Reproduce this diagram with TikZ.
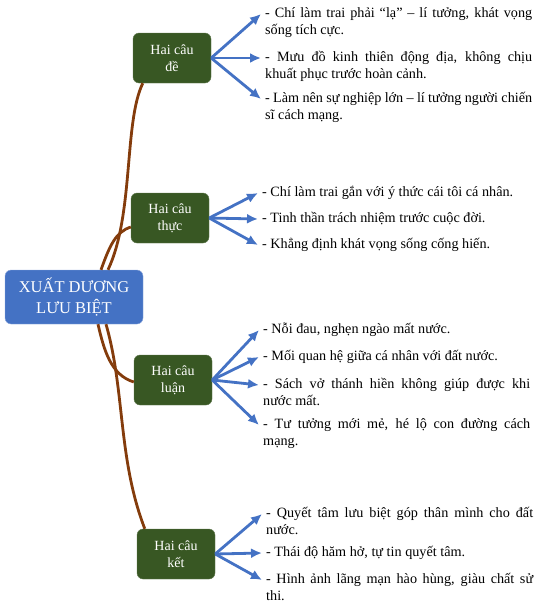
\documentclass[tikz,border=0pt]{standalone}
\usepackage{fontspec}
\setmainfont{Liberation Serif}
\usetikzlibrary{calc,arrows.meta}

\definecolor{rootblue}{HTML}{4472C4}
\definecolor{partgreen}{HTML}{385723}
\definecolor{branchbrown}{HTML}{843C0C}
\hyphenpenalty=10000
\tolerance=9999

\begin{document}
\begin{tikzpicture}[x=1pt, y=-1pt, >={Latex[length=11pt,width=10pt]},
  rootbox/.style={draw=rootblue!60!white, fill=rootblue, text=white, rounded corners=6pt,
    minimum width=138pt, minimum height=54pt, align=center,
    font=\fontsize{16.5}{21}\selectfont},
  partbox/.style={draw=partgreen!80!white, fill=partgreen, text=white, rounded corners=6pt,
    minimum width=78pt, minimum height=50pt, align=center,
    font=\fontsize{14}{17}\selectfont},
  item/.style={anchor=north west, inner sep=0pt, text width=267pt, align=justify,
    font=\fontsize{14.2}{17}\selectfont, execute at begin node=\strut},
  branch/.style={draw=branchbrown, line width=2.8pt},
  twig/.style={->, draw=rootblue, line width=2.8pt}]

  \useasboundingbox (0,0) rectangle (536,608);

  % 1. Center and the four parts
  \node[rootbox] (root) at (74,297) {XUẤT DƯƠNG\\LƯU BIỆT};
  \node[partbox] (de)   at (172,58)  {Hai câu\\đề};
  \node[partbox] (thuc) at (170,218) {Hai câu\\thực};
  \node[partbox] (luan) at (173,380) {Hai câu\\luận};
  \node[partbox] (ket)  at (176,554) {Hai câu\\kết};

  % 2. Brown branches
  \draw[branch] ($(root.north)+(34,0)$) .. controls +(26,-55) and +(-19,39) .. ($(de.south west)+(10,0)$);
  \draw[branch] ($(root.north)+(27,0)$) .. controls +(9,-25) and +(-15,5) .. ($(thuc.west)+(0,9)$);
  \draw[branch] ($(root.south)+(24,0)$) .. controls +(6,26) and +(-23,-7) .. ($(luan.west)+(0,2)$);
  \draw[branch] ($(root.south)+(32,0)$) .. controls +(19,66) and +(-27,-70) .. ($(ket.north west)+(8,0)$);

  % 3. Hai câu đề
  \node[item] (de1) at (265,5)  {- Chí làm trai phải “lạ” – lí tưởng, khát vọng\linebreak sống tích cực.};
  \node[item] (de2) at (265,49) {- Mưu đồ kinh thiên động địa, không chịu\linebreak khuất phục trước hoàn cảnh.};
  \node[item] (de3) at (265,90) {- Làm nên sự nghiệp lớn – lí tưởng người chiến\linebreak sĩ cách mạng.};
  \foreach \i in {1,2,3}
    \draw[twig] (de.east) -- ($(de\i.north west)+(-4,9)$);

  % 4. Hai câu thực
  \node[item] (thuc1) at (262,184) {- Chí làm trai gắn với ý thức cái tôi cá nhân.};
  \node[item] (thuc2) at (262,210) {- Tinh thần trách nhiệm trước cuộc đời.};
  \node[item] (thuc3) at (262,236) {- Khẳng định khát vọng sống cống hiến.};
  \foreach \i in {1,2,3}
    \draw[twig] (thuc.east) -- ($(thuc\i.north west)+(-4,9)$);

  % 5. Hai câu luận
  \node[item] (luan1) at (263,321) {- Nỗi đau, nghẹn ngào mất nước.};
  \node[item] (luan2) at (263,348) {- Mối quan hệ giữa cá nhân với đất nước.};
  \node[item] (luan3) at (263,376) {- Sách vở thánh hiền không giúp được khi\linebreak nước mất.};
  \node[item] (luan4) at (263,416) {- Tư tưởng mới mẻ, hé lộ con đường cách\linebreak mạng.};
  \foreach \i in {1,2,3,4}
    \draw[twig] (luan.east) -- ($(luan\i.north west)+(-4,9)$);

  % 6. Hai câu kết
  \node[item] (ket1) at (266,505) {- Quyết tâm lưu biệt góp thân mình cho đất\linebreak nước.};
  \node[item] (ket2) at (266,544) {- Thái độ hăm hở, tự tin quyết tâm.};
  \node[item] (ket3) at (266,571) {- Hình ảnh lãng mạn hào hùng, giàu chất sử\linebreak thi.};
  \foreach \i in {1,2,3}
    \draw[twig] (ket.east) -- ($(ket\i.north west)+(-4,9)$);
\end{tikzpicture}
\end{document}
